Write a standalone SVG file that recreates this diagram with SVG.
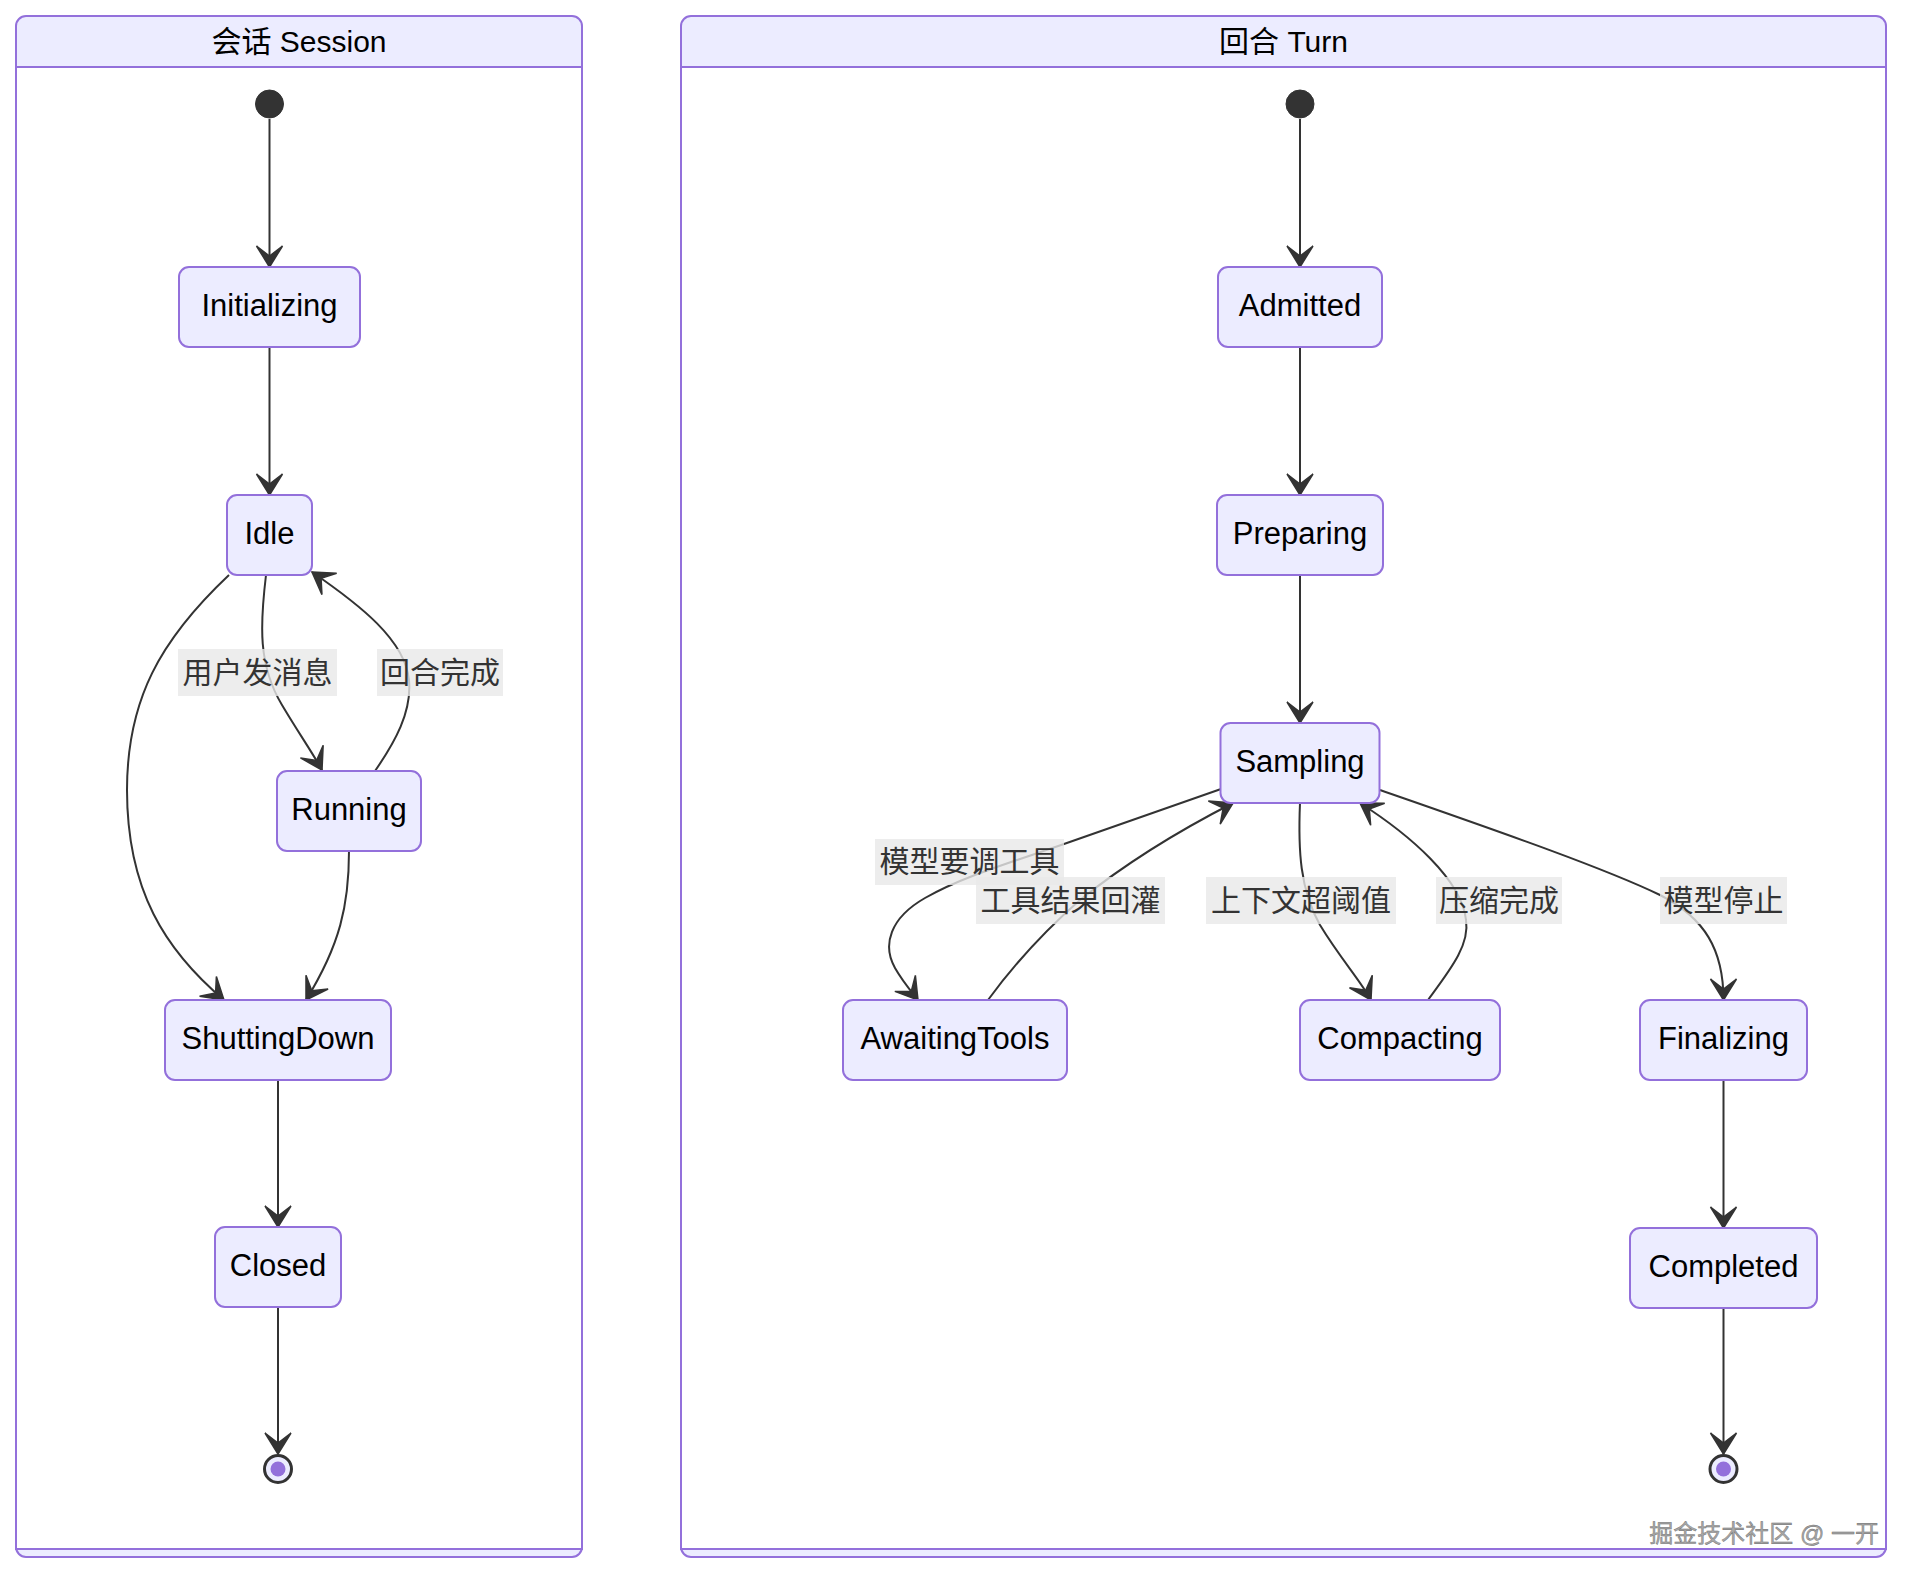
<svg xmlns="http://www.w3.org/2000/svg" width="1918" height="1586" viewBox="0 0 1918 1586">
<style>
.cl-outer{fill:#ECECFF;stroke:#9370DB;stroke-width:2}
.cl-inner{fill:#ffffff;stroke:#9370DB;stroke-width:2}
.cl-title{font-family:"Liberation Sans","Noto Sans CJK SC",sans-serif;font-size:30px;fill:#000;text-anchor:middle;dominant-baseline:central}
.node rect{fill:#ECECFF;stroke:#9370DB;stroke-width:2}
.node text{font-family:"Liberation Sans","Noto Sans CJK SC",sans-serif;font-size:31px;fill:#000;text-anchor:middle;dominant-baseline:central}
.start{fill:#333;stroke:#333;stroke-width:1}
.end-o{fill:#ECECFF;stroke:#333;stroke-width:3}
.end-i{fill:#9370DB;stroke:none}
.edge{fill:none;stroke:#333;stroke-width:2;marker-end:url(#barb)}
.lbl rect{fill:rgba(232,232,232,0.8)}
.lbl text{font-family:"Liberation Sans","Noto Sans CJK SC",sans-serif;font-size:30px;fill:#333;text-anchor:middle;dominant-baseline:central}
.wm{font-family:"Liberation Sans","Noto Sans CJK SC",sans-serif;font-size:24px;fill:#a8a8a8;stroke:#6a6a6a;stroke-width:0.4;text-anchor:end}
</style>
<defs>
<marker id="barb" markerUnits="userSpaceOnUse" markerWidth="44" markerHeight="32" refX="38" refY="15" orient="auto">
<path d="M 38,15 L17,28 L27,15 L17,2 Z" fill="#333" stroke="#333" stroke-width="1.5" stroke-linejoin="miter"/>
</marker>
</defs>
<rect width="1918" height="1586" fill="#ffffff"/>

<g id="cluster-session">
<rect class="cl-outer" x="16" y="16" width="566" height="1541" rx="10"/>
<rect class="cl-inner" x="16" y="67" width="566" height="1482"/>
<text class="cl-title" x="299" y="41">会话 Session</text>
</g>
<g id="cluster-turn">
<rect class="cl-outer" x="681" y="16" width="1205" height="1541" rx="10"/>
<rect class="cl-inner" x="681" y="67" width="1205" height="1482"/>
<text class="cl-title" x="1283.5" y="41">回合 Turn</text>
</g>

<g id="connectors">
<path class="edge" d="M 269.5 119 L 269.5 267"/>
<path class="edge" d="M 269.5 347 L 269.5 495"/>
<path class="edge" d="M 266 575 C 260 625, 258 665, 282 705 C 298 732, 312 752, 322 770"/>
<path class="edge" d="M 375 771 C 395 742, 412 712, 409 680 C 405 640, 360 605, 312 572"/>
<path class="edge" d="M 229 575 C 160 640, 127 700, 127 790 C 127 890, 165 950, 224 1000"/>
<path class="edge" d="M 349 851 C 349 905, 340 945, 306 1000"/>
<path class="edge" d="M 278 1080 L 278 1227"/>
<path class="edge" d="M 278 1307 L 278 1454"/>

<path class="edge" d="M 1300 119 L 1300 267"/>
<path class="edge" d="M 1300 347 L 1300 495"/>
<path class="edge" d="M 1300 575 L 1300 723"/>
<path class="edge" d="M 1221 789 L 1064 844 C 1000 866, 960 878, 925 898 C 890 918, 882 945, 895 968 C 903 982, 911 991, 918 1000"/>
<path class="edge" d="M 988 1000 C 1010 970, 1040 935, 1080 900 C 1130 860, 1190 825, 1233 803"/>
<path class="edge" d="M 1300 803 C 1298 850, 1300 890, 1320 925 C 1340 958, 1360 980, 1371 1000"/>
<path class="edge" d="M 1428 1000 C 1450 970, 1470 945, 1466 920 C 1462 880, 1410 835, 1360 803"/>
<path class="edge" d="M 1380 790 C 1480 825, 1600 866, 1660 895 C 1705 918, 1723.5 950, 1723.5 1000"/>
<path class="edge" d="M 1723.5 1080 L 1723.5 1228"/>
<path class="edge" d="M 1723.5 1308 L 1723.5 1454"/>

<g class="lbl"><rect x="178" y="649" width="159" height="47"/><text x="257.5" y="672">用户发消息</text></g>
<g class="lbl"><rect x="377" y="649" width="126" height="47"/><text x="440" y="672">回合完成</text></g>
<g class="lbl"><rect x="875" y="839" width="189" height="46"/><text x="969.5" y="861.5">模型要调工具</text></g>
<g class="lbl"><rect x="976" y="877" width="189" height="47"/><text x="1070.5" y="900">工具结果回灌</text></g>
<g class="lbl"><rect x="1206" y="877" width="190" height="47"/><text x="1301" y="900">上下文超阈值</text></g>
<g class="lbl"><rect x="1436" y="877" width="126" height="47"/><text x="1499" y="900">压缩完成</text></g>
<g class="lbl"><rect x="1660" y="877" width="127" height="47"/><text x="1723.5" y="900">模型停止</text></g>
</g>

<g id="session-start"><circle class="start" cx="269.5" cy="104" r="14"/></g>
<g id="Initializing" class="node"><rect x="179" y="267" width="181" height="80" rx="10"/><text x="269.5" y="305">Initializing</text></g>
<g id="Idle" class="node"><rect x="227" y="495" width="85" height="80" rx="10"/><text x="269.5" y="533">Idle</text></g>
<g id="Running" class="node"><rect x="277" y="771" width="144" height="80" rx="10"/><text x="349" y="809">Running</text></g>
<g id="ShuttingDown" class="node"><rect x="165" y="1000" width="226" height="80" rx="10"/><text x="278" y="1038">ShuttingDown</text></g>
<g id="Closed" class="node"><rect x="215" y="1227" width="126" height="80" rx="10"/><text x="278" y="1265">Closed</text></g>
<g id="session-end"><circle class="end-o" cx="278" cy="1469" r="13.5"/><circle class="end-i" cx="278" cy="1469" r="7.5"/></g>

<g id="turn-start"><circle class="start" cx="1300" cy="104" r="14"/></g>
<g id="Admitted" class="node"><rect x="1218" y="267" width="164" height="80" rx="10"/><text x="1300" y="305">Admitted</text></g>
<g id="Preparing" class="node"><rect x="1217" y="495" width="166" height="80" rx="10"/><text x="1300" y="533">Preparing</text></g>
<g id="Sampling" class="node"><rect x="1220.5" y="723" width="159" height="80" rx="10"/><text x="1300" y="761">Sampling</text></g>
<g id="AwaitingTools" class="node"><rect x="843" y="1000" width="224" height="80" rx="10"/><text x="955" y="1038">AwaitingTools</text></g>
<g id="Compacting" class="node"><rect x="1300" y="1000" width="200" height="80" rx="10"/><text x="1400" y="1038">Compacting</text></g>
<g id="Finalizing" class="node"><rect x="1640" y="1000" width="167" height="80" rx="10"/><text x="1723.5" y="1038">Finalizing</text></g>
<g id="Completed" class="node"><rect x="1630" y="1228" width="187" height="80" rx="10"/><text x="1723.5" y="1266">Completed</text></g>
<g id="turn-end"><circle class="end-o" cx="1723.5" cy="1469" r="13.5"/><circle class="end-i" cx="1723.5" cy="1469" r="7.5"/></g>

<text class="wm" x="1879" y="1542">掘金技术社区 @ 一开</text>
</svg>
